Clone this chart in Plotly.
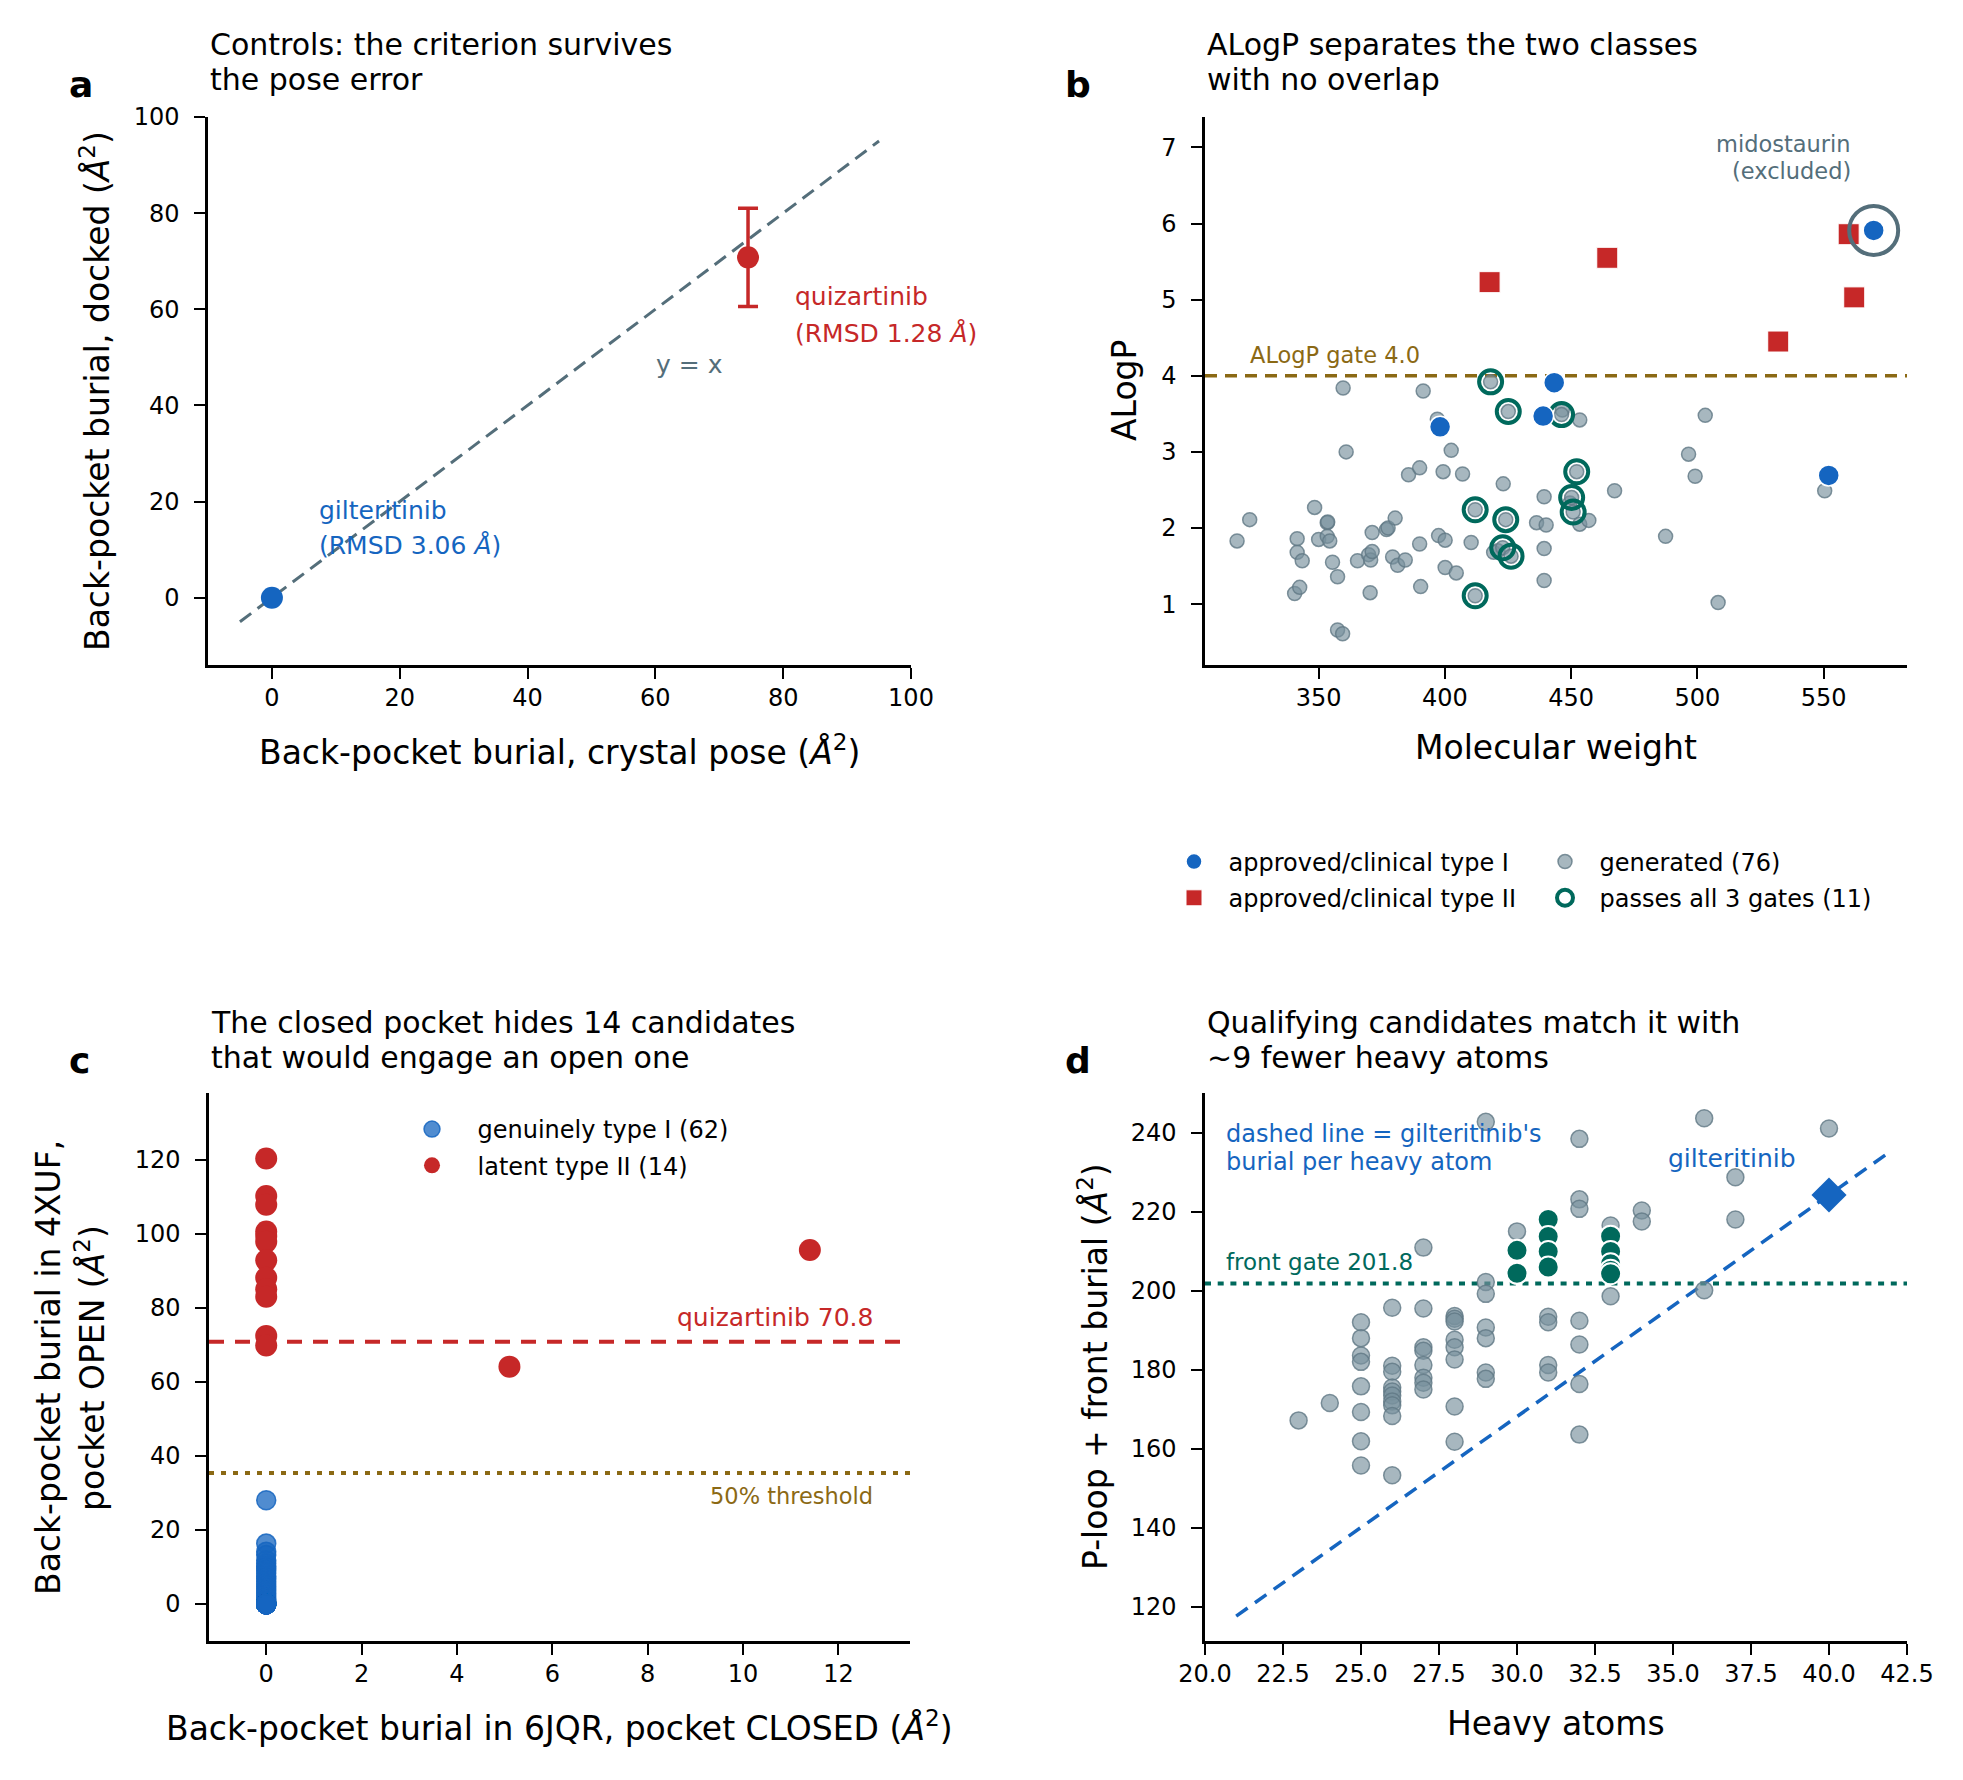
import plotly.graph_objects as go

FONT = "DejaVu Sans"
W, H = 1963, 1780          # reference picture size
OFF = 8                    # page body margin of the browser
WF, HF = W - OFF, H - OFF  # figure size so that the page fits the window

BLUE = "#1565C0"
RED = "#C62828"
GREEN = "#00695C"
SLATE = "#546E7A"
OLIVE = "#8B6914"
GRAYF = "rgba(120,144,156,0.65)"
GRAYE = "rgba(96,120,132,0.8)"

# ---------------- panel a data ----------------
a_names = ["gilteritinib", "quizartinib"]
a_crystal = [0.0, 74.5]
a_docked = [0.0, 70.8]
a_err = [0.0, 10.2]
a_diag = [-5, 95]

# ---------------- panel b data ----------------
gen_mw = [317.7, 322.7, 340.5, 342.5, 341.5, 341.5, 343.5, 348.4, 350.0, 353.4,
          353.6, 353.4, 354.4, 355.5, 357.5, 357.5, 359.5, 359.7, 360.9, 365.4,
          369.8, 370.6, 371.2, 370.4, 371.2, 376.9, 377.5, 380.3, 379.3, 381.3,
          384.3, 385.6, 390.0, 390.0, 390.4, 391.4, 397.5, 397.0, 399.3, 400.1,
          400.1, 402.5, 404.5, 407.0, 410.4, 423.1, 419.3, 436.3, 439.3, 440.1,
          439.3, 439.3, 453.4, 453.4, 457.0, 467.2, 487.4, 496.5, 499.1, 503.1,
          508.2, 550.4, 421.0, 449.5, 446.5,
          418.1, 425.1, 446.2, 452.2, 450.2, 450.8, 412.0, 424.1, 422.9, 426.2, 412.0]
gen_alogp = [1.83, 2.11, 1.14, 1.22, 1.86, 1.68, 1.57, 2.27, 1.85, 2.07,
             2.08, 1.89, 1.83, 1.55, 1.36, 0.66, 0.61, 3.84, 3.00, 1.57,
             1.65, 1.58, 1.69, 1.15, 1.94, 1.98, 2.00, 2.13, 1.62, 1.51,
             1.58, 2.70, 2.79, 1.79, 1.23, 3.80, 1.90, 3.43, 2.74, 1.84,
             1.48, 3.02, 1.41, 2.71, 1.81, 2.58, 1.68, 2.07, 2.41, 2.04,
             1.73, 1.31, 3.42, 2.05, 2.10, 2.49, 1.89, 2.97, 2.68, 3.48,
             1.02, 2.49, 1.70, 2.33, 3.55,
             3.92, 3.53, 3.49, 2.74, 2.40, 2.21, 2.24, 2.11, 1.74, 1.63, 1.11]
pass_mw = [418.1, 425.1, 446.2, 452.2, 450.2, 450.8, 412.0, 424.1, 422.9, 426.2, 412.0]
pass_alogp = [3.92, 3.53, 3.49, 2.74, 2.40, 2.21, 2.24, 2.11, 1.74, 1.63, 1.11]
t1_mw = [398.1, 443.3, 438.9, 552.0, 569.8]
t1_alogp = [3.33, 3.91, 3.47, 2.69, 5.91]
t2_mw = [417.7, 464.3, 559.9, 562.1, 532.0]
t2_alogp = [5.23, 5.55, 5.86, 5.03, 4.45]
mido_mw = [569.8]
mido_alogp = [5.91]
alogp_gate = 4.0

# ---------------- panel c data ----------------
c_t1_closed = [0.0] * 62
c_t1_open = [28.0, 16.3, 14.1, 13.2, 11.8, 10.9, 10.2, 9.6, 9.0, 8.3,
             7.5, 6.9, 6.1, 5.4, 4.8, 4.1, 3.5, 2.9, 2.2, 1.6,
             1.1, 0.7, 0.4, 0.2, 0.0, 0.0, 0.0, 0.0, 0.0, 0.0,
             0.0, 0.0, 0.0, 0.0, 0.0, 0.0, 0.0, 0.0, 0.0, 0.0,
             0.0, 0.0, 0.0, 0.0, 0.0, 0.0, 0.0, 0.0, 0.0, 0.0,
             0.0, 0.0, 0.0, 0.0, 0.0, 0.0, 0.0, 0.0, 0.0, 0.0,
             0.0, 0.0]
c_t2_closed = [0.0, 0.0, 0.0, 0.0, 0.0, 0.0, 0.0, 0.0, 0.0, 0.0, 0.0, 0.0, 5.1, 11.4]
c_t2_open = [120.3, 110.2, 107.8, 100.6, 99.4, 97.8, 92.8, 88.1, 85.0, 83.0, 72.4, 69.8, 64.1, 95.6]
quiz_open = 70.8
half_thresh = 35.4

# ---------------- panel d data ----------------
d_gen_ha = [23, 24,
            25, 25, 25, 25, 25, 25, 25, 25,
            26, 26, 26, 26, 26, 26, 26, 26, 26, 26,
            27, 27, 27, 27, 27, 27, 27, 27,
            28, 28, 28, 28, 28, 28, 28, 28,
            29, 29, 29, 29, 29, 29, 29,
            30,
            31, 31, 31, 31,
            32, 32, 32, 32, 32, 32, 32,
            33, 33,
            34, 34,
            36, 36,
            37, 37,
            40]
d_gen_bur = [167.2, 171.6,
             192.0, 188.0, 183.6, 182.0, 175.8, 169.3, 161.9, 155.8,
             195.7, 181.0, 179.5, 175.5, 174.5, 173.5, 172.0, 171.0, 168.3, 153.3,
             210.9, 195.5, 185.7, 184.8, 181.2, 178.0, 176.7, 175.0,
             193.6, 192.9, 192.2, 187.6, 185.7, 182.6, 170.7, 161.8,
             242.7, 202.2, 199.2, 190.7, 188.0, 179.3, 177.7,
             215.0,
             193.4, 192.0, 181.2, 179.3,
             238.4, 223.1, 220.7, 192.4, 186.4, 176.4, 163.6,
             216.5, 198.6,
             220.3, 217.5,
             243.6, 200.1,
             228.7, 218.0,
             241.0]
d_pass_ha = [30, 30, 31, 31, 31, 31, 33, 33, 33, 33, 33]
d_pass_bur = [210.2, 204.4, 218.0, 213.7, 209.9, 206.0, 213.8, 209.9, 206.8, 205.2, 204.3]
gilt_ha = [40]
gilt_bur = [224.2]
gilt_line_ha = [21, 42]
front_gate = 201.8

# ---------------- layout helpers (positions in reference pixels) ----------------
boxes = {
    "a": (208, 911, 117, 665),
    "b": (1205, 1907, 117, 665),
    "c": (209, 910, 1093, 1641),
    "d": (1205, 1907, 1093, 1641),
}


def fx(xpx):
    return (xpx - OFF) / WF


def fy(ypx):
    return 1 - (ypx - OFF) / HF


def xdom(b):
    return [fx(b[0]), fx(b[1])]


def ydom(b):
    return [fy(b[3]), fy(b[2])]


def axis_style(**kw):
    d = dict(showline=True, linecolor="black", linewidth=2.5, mirror=False,
             ticks="outside", ticklen=11, tickwidth=2, tickcolor="black",
             showgrid=False, zeroline=False, automargin=False,
             tickfont=dict(family=FONT, size=24, color="black"))
    d.update(kw)
    return d


XSO = -2   # x tick label standoff
YSO = 10   # y tick label standoff

fig = go.Figure()

# ---- panel a ----
fig.add_trace(go.Scatter(x=a_diag, y=a_diag, mode="lines", xaxis="x", yaxis="y",
                         line=dict(color=SLATE, width=3, dash="14px,8px"),
                         showlegend=False, hoverinfo="skip"))
fig.add_trace(go.Scatter(x=a_crystal[:1], y=a_docked[:1], mode="markers", xaxis="x", yaxis="y",
                         marker=dict(size=22, color=BLUE), showlegend=False, name=a_names[0]))
fig.add_trace(go.Scatter(x=a_crystal[1:], y=a_docked[1:], mode="markers", xaxis="x", yaxis="y",
                         marker=dict(size=22, color=RED), showlegend=False, name=a_names[1],
                         error_y=dict(type="data", array=a_err[1:], color=RED, thickness=3.5, width=10)))

# ---- panel b ----
fig.add_trace(go.Scatter(x=gen_mw, y=gen_alogp, mode="markers", xaxis="x2", yaxis="y2",
                         marker=dict(size=14, color=GRAYF, line=dict(color=GRAYE, width=1.5)),
                         name="generated (76)", legend="legend3", legendrank=1, legendgroup="b3"))
fig.add_trace(go.Scatter(x=pass_mw, y=pass_alogp, mode="markers", xaxis="x2", yaxis="y2",
                         marker=dict(size=23, symbol="circle-open", color=GREEN, line=dict(width=4)),
                         name="passes all 3 gates (11)", legend="legend3", legendrank=2, legendgroup="b4"))
fig.add_trace(go.Scatter(x=t1_mw, y=t1_alogp, mode="markers", xaxis="x2", yaxis="y2",
                         marker=dict(size=21, color=BLUE, line=dict(color="white", width=1.5)),
                         name="approved/clinical type I", legend="legend", legendrank=1, legendgroup="b1"))
fig.add_trace(go.Scatter(x=t2_mw, y=t2_alogp, mode="markers", xaxis="x2", yaxis="y2",
                         marker=dict(size=21, symbol="square", color=RED, line=dict(color="white", width=1)),
                         name="approved/clinical type II", legend="legend", legendrank=2, legendgroup="b2"))
fig.add_trace(go.Scatter(x=mido_mw, y=mido_alogp, mode="markers", xaxis="x2", yaxis="y2",
                         marker=dict(size=49, symbol="circle-open", color=SLATE, line=dict(width=4)),
                         showlegend=False))

# ---- panel c ----
fig.add_trace(go.Scatter(x=c_t1_closed, y=c_t1_open, mode="markers", xaxis="x3", yaxis="y3",
                         marker=dict(size=19, color="rgba(21,101,192,0.75)",
                                     line=dict(color="rgba(21,101,192,0.85)", width=1.5)),
                         name="genuinely type I (62)", legend="legend2", legendgroup="g1"))
fig.add_trace(go.Scatter(x=c_t2_closed, y=c_t2_open, mode="markers", xaxis="x3", yaxis="y3",
                         marker=dict(size=22, color=RED),
                         name="latent type II (14)", legend="legend2", legendgroup="g2"))

# ---- panel d ----
ratio = gilt_bur[0] / gilt_ha[0]
fig.add_trace(go.Scatter(x=gilt_line_ha, y=[h * ratio for h in gilt_line_ha], mode="lines",
                         xaxis="x4", yaxis="y4", line=dict(color=BLUE, width=3.5, dash="14px,9px"),
                         showlegend=False, hoverinfo="skip"))
fig.add_trace(go.Scatter(x=d_gen_ha, y=d_gen_bur, mode="markers", xaxis="x4", yaxis="y4",
                         marker=dict(size=17, color=GRAYF, line=dict(color=GRAYE, width=1.5)),
                         showlegend=False))
fig.add_trace(go.Scatter(x=d_pass_ha, y=d_pass_bur, mode="markers", xaxis="x4", yaxis="y4",
                         marker=dict(size=21, color=GREEN, line=dict(color="white", width=2)),
                         showlegend=False))
fig.add_trace(go.Scatter(x=gilt_ha, y=gilt_bur, mode="markers", xaxis="x4", yaxis="y4",
                         marker=dict(size=27, symbol="diamond", color=BLUE),
                         showlegend=False))

# ---- shapes (reference lines) ----
shapes = [
    dict(type="line", xref="x2 domain", yref="y2", x0=0, x1=1, y0=alogp_gate, y1=alogp_gate,
         line=dict(color=OLIVE, width=3.5, dash="12px,8px"), layer="below"),
    dict(type="line", xref="x3 domain", yref="y3", x0=0, x1=1, y0=quiz_open, y1=quiz_open,
         line=dict(color=RED, width=4, dash="15px,11px"), layer="below"),
    dict(type="line", xref="x3 domain", yref="y3", x0=0, x1=1, y0=half_thresh, y1=half_thresh,
         line=dict(color=OLIVE, width=4, dash="5px,7px"), layer="below"),
    dict(type="line", xref="x4 domain", yref="y4", x0=0, x1=1, y0=front_gate, y1=front_gate,
         line=dict(color=GREEN, width=4, dash="6px,6.7px"), layer="below"),
]

# ---- annotations ----
anns = []


def base_ann(x, y, text, xr, yr, size, color, xanchor="left", bold=False):
    anns.append(dict(x=x, y=y, xref=xr, yref=yr, text=("<b>%s</b>" % text) if bold else text,
                     showarrow=False, xanchor=xanchor, yanchor="bottom",
                     yshift=-(0.236 * size + 1),
                     font=dict(family=FONT, size=size, color=color)))


def px_ann(xpx, ypx_base, text, size, color="black", xanchor="left", bold=False):
    base_ann(fx(xpx), fy(ypx_base), text, "paper", "paper", size, color, xanchor, bold)


def rot_ann(xpx, ypx, text, size=33):
    anns.append(dict(x=fx(xpx), y=fy(ypx), xref="paper", yref="paper", text=text,
                     showarrow=False, xanchor="center", yanchor="middle", textangle=-90,
                     font=dict(family=FONT, size=size, color="black")))


ANG = "(<i>Å</i><sup>2</sup>)"

# titles
titles = {
    "a": ("Controls: the criterion survives", "the pose error"),
    "b": ("ALogP separates the two classes", "with no overlap"),
    "c": ("The closed pocket hides 14 candidates", "that would engage an open one"),
    "d": ("Qualifying candidates match it with", "~9 fewer heavy atoms"),
}
for k, (l1, l2) in titles.items():
    bx = boxes[k]
    top = 55.5 if k in "ab" else 1033.6
    px_ann(bx[0], top, l1, 30)
    px_ann(bx[0], top + 35.5, l2, 30)

px_ann(67, 97.5, "a", 36, bold=True)
px_ann(1063, 98, "b", 36, bold=True)
px_ann(67, 1074, "c", 36, bold=True)
px_ann(1063, 1074, "d", 36, bold=True)

# axis labels
px_ann((208 + 911) / 2, 765, "Back-pocket burial, crystal pose " + ANG, 33, xanchor="center")
px_ann((1205 + 1907) / 2, 760, "Molecular weight", 33, xanchor="center")
px_ann((209 + 910) / 2, 1741, "Back-pocket burial in 6JQR, pocket CLOSED " + ANG, 33, xanchor="center")
px_ann((1205 + 1907) / 2, 1736, "Heavy atoms", 33, xanchor="center")
rot_ann(95, 391, "Back-pocket burial, docked " + ANG)
rot_ann(1124, 391, "ALogP")
rot_ann(48, 1368, "Back-pocket burial in 4XUF,")
rot_ann(90, 1368, "pocket OPEN " + ANG)
rot_ann(1093, 1367, "P-loop + front burial " + ANG)

# panel a labels
base_ann(59.8, 46.6, "y = x", "x", "y", 25, SLATE)
base_ann(7.0, 16.1, "gilteritinib", "x", "y", 25, BLUE)
base_ann(7.0, 8.9, "(RMSD 3.06 <i>Å</i>)", "x", "y", 25, BLUE)
base_ann(81.6, 60.7, "quizartinib", "x", "y", 25, RED)
base_ann(81.6, 53.0, "(RMSD 1.28 <i>Å</i>)", "x", "y", 25, RED)

# panel b labels
base_ann(322.2, 4.16, "ALogP gate 4.0", "x2", "y2", 22.5, OLIVE)
base_ann(561.5, 6.93, "midostaurin", "x2", "y2", 22.5, SLATE, xanchor="right")
base_ann(561.5, 6.58, "(excluded)", "x2", "y2", 22.5, SLATE, xanchor="right")

# panel c labels
base_ann(12.76, 74.9, "quizartinib 70.8", "x3", "y3", 25, RED, xanchor="right")
base_ann(12.76, 26.8, "50% threshold", "x3", "y3", 22.5, OLIVE, xanchor="right")

# panel d labels
base_ann(20.62, 237.3, "dashed line = gilteritinib's", "x4", "y4", 24, BLUE)
base_ann(20.62, 230.1, "burial per heavy atom", "x4", "y4", 24, BLUE)
base_ann(20.62, 205.1, "front gate 201.8", "x4", "y4", 23, GREEN)
base_ann(34.76, 230.9, "gilteritinib", "x4", "y4", 25, BLUE)

legend_font = dict(family=FONT, size=24, color="black")


def leg(sym_x, row1_y, itemwidth):
    left = sym_x - itemwidth / 2 - 5
    return dict(x=fx(left), y=fy(row1_y - 26), xanchor="left", yanchor="top",
                bgcolor="rgba(0,0,0,0)", borderwidth=0, font=legend_font,
                itemwidth=itemwidth, tracegroupgap=2, orientation="v")


fig.update_layout(
    width=WF, height=HF, autosize=False,
    margin=dict(l=0, r=0, t=0, b=0, pad=0, autoexpand=False),
    paper_bgcolor="white", plot_bgcolor="white",
    font=dict(family=FONT, color="black"),
    shapes=shapes, annotations=anns,
    xaxis=axis_style(domain=xdom(boxes["a"]), anchor="y", range=[-10, 100],
                     tickvals=[0, 20, 40, 60, 80, 100], ticklabelstandoff=XSO),
    yaxis=axis_style(domain=ydom(boxes["a"]), anchor="x", range=[-14, 100],
                     tickvals=[0, 20, 40, 60, 80, 100], ticklabelstandoff=YSO),
    xaxis2=axis_style(domain=xdom(boxes["b"]), anchor="y2", range=[305, 583],
                      tickvals=[350, 400, 450, 500, 550], ticklabelstandoff=XSO),
    yaxis2=axis_style(domain=ydom(boxes["b"]), anchor="x2", range=[0.2, 7.4],
                      tickvals=[1, 2, 3, 4, 5, 6, 7], ticklabelstandoff=YSO),
    xaxis3=axis_style(domain=xdom(boxes["c"]), anchor="y3", range=[-1.2, 13.5],
                      tickvals=[0, 2, 4, 6, 8, 10, 12], ticklabelstandoff=XSO),
    yaxis3=axis_style(domain=ydom(boxes["c"]), anchor="x3", range=[-10, 138],
                      tickvals=[0, 20, 40, 60, 80, 100, 120], ticklabelstandoff=YSO),
    xaxis4=axis_style(domain=xdom(boxes["d"]), anchor="y4", range=[20, 42.5],
                      tickvals=[20, 22.5, 25, 27.5, 30, 32.5, 35, 37.5, 40, 42.5],
                      ticktext=["20.0", "22.5", "25.0", "27.5", "30.0", "32.5", "35.0", "37.5", "40.0", "42.5"],
                      ticklabelstandoff=XSO),
    yaxis4=axis_style(domain=ydom(boxes["d"]), anchor="x4", range=[111.4, 250],
                      tickvals=[120, 140, 160, 180, 200, 220, 240], ticklabelstandoff=YSO),
    legend=leg(1194, 865.5, 59),
    legend3=leg(1565, 865.5, 59),
    legend2=leg(432, 1133, 81),
)

fig.write_html("out.html")
